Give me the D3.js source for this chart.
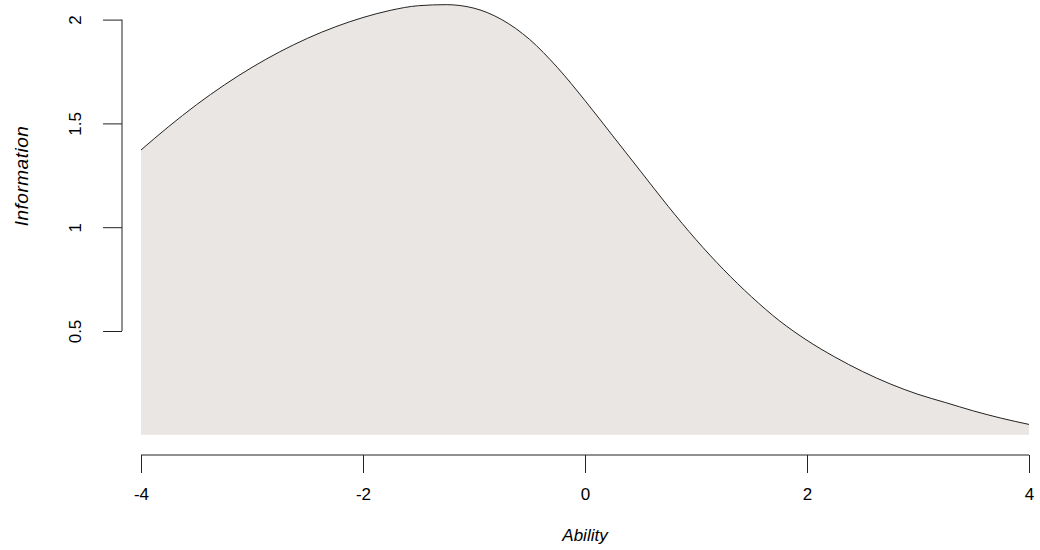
<!DOCTYPE html>
<meta charset="utf-8">
<script src="https://d3js.org/d3.v7.min.js"></script>
<style>
  body { margin: 0; background: #fff; }
  text { font-family: "Liberation Sans", Arial, sans-serif; }
</style>
<div id="my_dataviz"></div>
<script>
// ability grid and test information
const ability = [-4, -3.75, -3.5, -3.25, -3, -2.75, -2.5, -2.25, -2, -1.75, -1.5, -1.25, -1,
  -0.75, -0.5, -0.25, 0, 0.25, 0.5, 0.75, 1, 1.25, 1.5, 1.75, 2, 2.25, 2.5, 2.75, 3, 3.25, 3.5, 3.75, 4];
const information = [1.372, 1.485, 1.59, 1.685, 1.77, 1.845, 1.91, 1.965, 2.01, 2.045, 2.067, 2.072, 2.055,
  2.0, 1.905, 1.77, 1.61, 1.44, 1.27, 1.10, 0.94, 0.795, 0.665, 0.55, 0.455, 0.375, 0.305, 0.245, 0.195, 0.155, 0.115, 0.08, 0.05];
const xTicks = [-4, -2, 0, 2, 4];
const yTicks = [0.5, 1, 1.5, 2];

const width = 1040, height = 550;
const data = ability.map((a, i) => ({x: a, y: information[i]}));

const svg = d3.select("#my_dataviz")
  .append("svg")
    .attr("width", width)
    .attr("height", height);

const x = d3.scaleLinear().domain([-4, 4]).range([141, 1029]);
const y = d3.scaleLinear().domain([0, 2]).range([434.8, 19.6]);

// shaded area under the curve
svg.append("path")
  .datum(data)
  .attr("fill", "#e9e6e3")
  .attr("d", d3.area()
    .x(d => x(d.x))
    .y0(y(0))
    .y1(d => y(d.y))
    .curve(d3.curveMonotoneX));

svg.append("path")
  .datum(data)
  .attr("fill", "none")
  .attr("stroke", "#222")
  .attr("stroke-width", 1)
  .attr("d", d3.line()
    .x(d => x(d.x))
    .y(d => y(d.y))
    .curve(d3.curveMonotoneX));

// x axis, R style (line only between first and last tick)
const xAxis = svg.append("g")
  .attr("transform", "translate(0,455)")
  .call(d3.axisBottom(x).tickValues(xTicks).tickSize(18).tickPadding(15)
    .tickSizeOuter(0).tickFormat(d => String(d)));
xAxis.select(".domain").remove();
xAxis.append("line")
  .attr("x1", x(xTicks[0])).attr("x2", x(xTicks[xTicks.length - 1]))
  .attr("stroke", "#222");
xAxis.selectAll(".tick line").attr("stroke", "#222");
xAxis.selectAll(".tick text")
  .style("font-size", "17px")
  .attr("fill", "#000")
  .attr("font-family", "Liberation Sans, Arial, sans-serif");

// y axis, labels turned
const yAxis = svg.append("g")
  .attr("transform", "translate(122,0)")
  .call(d3.axisLeft(y).tickValues(yTicks).tickSize(19).tickSizeOuter(0).tickFormat(d => String(d)));
yAxis.select(".domain").remove();
yAxis.append("line")
  .attr("y1", y(yTicks[0])).attr("y2", y(yTicks[yTicks.length - 1]))
  .attr("stroke", "#222");
yAxis.selectAll(".tick line").attr("stroke", "#222");
yAxis.selectAll(".tick text")
  .style("font-size", "17px")
  .attr("fill", "#000")
  .attr("font-family", "Liberation Sans, Arial, sans-serif")
  .attr("text-anchor", "middle")
  .attr("dy", null)
  .attr("x", null)
  .attr("transform", "translate(-47,0) rotate(-90)")
  .attr("dominant-baseline", "central");

svg.append("text")
  .attr("x", x(0))
  .attr("y", 541)
  .attr("text-anchor", "middle")
  .style("font-size", "17px")
  .style("font-style", "italic")
  .text("Ability");

svg.append("text")
  .attr("transform", "translate(28,176) rotate(-90)")
  .attr("text-anchor", "middle")
  .style("font-size", "19px")
  .style("letter-spacing", "0.5px")
  .style("font-style", "italic")
  .text("Information");
</script>
